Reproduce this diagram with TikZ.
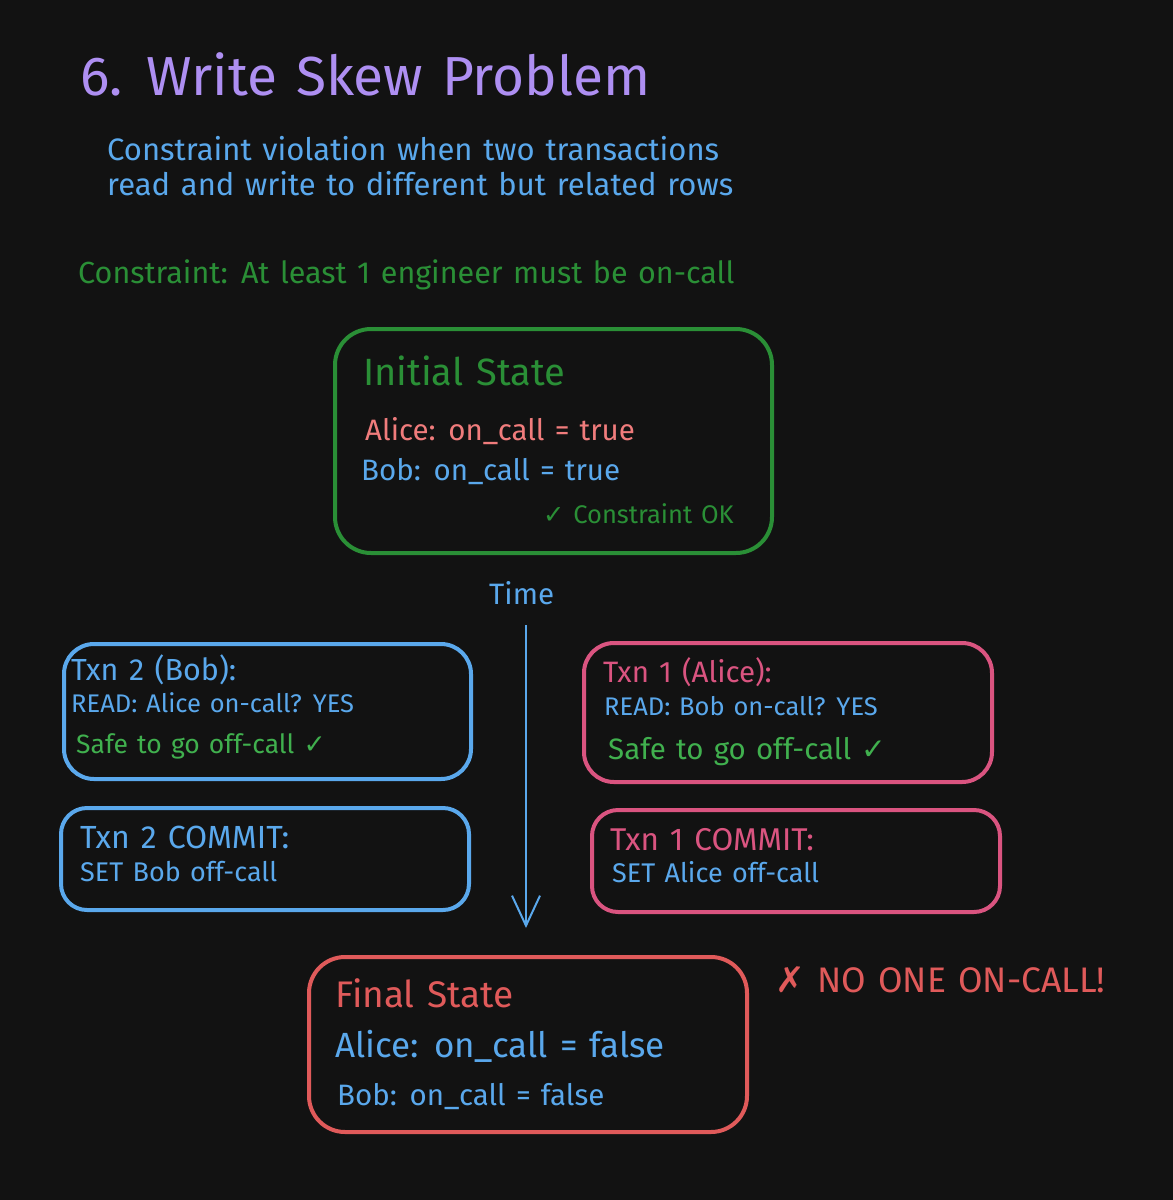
\documentclass[tikz,border=0pt]{standalone}
\usepackage{fontspec}
\setmainfont{Fira Sans}[WordSpace=1.3]
\newfontfamily\symfont{DejaVu Sans}
\usetikzlibrary{arrows.meta}
\definecolor{bgdark}{HTML}{121212}
\definecolor{ttlviolet}{HTML}{AE8FF2}
\definecolor{skyblue}{HTML}{5AA8EC}
\definecolor{darkgreen}{HTML}{2A8F36}
\definecolor{litegreen}{HTML}{40B04E}
\definecolor{salmon}{HTML}{F07C7C}
\definecolor{pinkred}{HTML}{DA5480}
\definecolor{finalred}{HTML}{E05A5A}
\newcommand{\fs}[1]{\fontsize{#1}{#1}\selectfont}
\begin{document}
\begin{tikzpicture}[x=1pt,y=-1pt]
    \tikzset{every node/.style={inner sep=0pt},
      box/.style={draw, line width=4pt, rounded corners=36pt, anchor=north west},
      txt/.style={anchor=base west}}
    \fill [bgdark] (0,0) rectangle (1173,1200);
    % heading
    \node [txt, ttlviolet, font=\fs{55}] (title) at (80,95) {6. Write Skew Problem};
    \node [txt, skyblue, font=\fs{31}] (sub1) at (107,160) {Constraint violation when two transactions};
    \node [txt, skyblue, font=\fs{31}] (sub2) at (107,195) {read and write to different but related rows};
    \node [txt, darkgreen, font=\fs{30.5}] (rule) at (78,283) {Constraint: At least 1 engineer must be on-call};
    % initial state
    \node [box, darkgreen, minimum width=437pt, minimum height=224pt] (init) at (333,327) {};
    \node [txt, darkgreen, font=\fs{38}] (initttl) at (363,385) {Initial State};
    \node [txt, salmon, font=\fs{29.5}] (initA) at (365,440) {Alice: on\_call = true};
    \node [txt, skyblue, font=\fs{29.5}] (initB) at (361,480) {Bob: on\_call = true};
    \node [txt, darkgreen, font=\fs{25.5}] (initok) at (543,523) {{\symfont ✓} Constraint OK};
    % time axis
    \node [txt, skyblue, font=\fs{29.5}] (time) at (489,604) {Time};
    \coordinate (ttop) at (526,625);
    \coordinate (tbot) at (526,928);
    \draw [skyblue, line width=2pt, -{Straight Barb[length=30pt,width=28pt]}] (ttop) -- (tbot);
    % txn 2 (bob)
    \node [box, skyblue, rounded corners=30pt, minimum width=407pt, minimum height=135pt] (bobrd) at (62,642) {};
    \node [txt, skyblue, font=\fs{30.5}] (bob1) at (71,680) {Txn 2 (Bob):};
    \node [txt, skyblue, font=\fs{25.5}] (bob2) at (71,712) {READ: Alice on-call? YES};
    \node [txt, litegreen, font=\fs{26.5}] (bob3) at (76,753) {Safe to go off-call {\symfont ✓}};
    \node [box, skyblue, rounded corners=26pt, minimum width=408pt, minimum height=102pt] (bobcm) at (59,806) {};
    \node [txt, skyblue, font=\fs{32}] (bob4) at (80,848) {Txn 2 COMMIT:};
    \node [txt, skyblue, font=\fs{27}] (bob5) at (80,881) {SET Bob off-call};
    % txn 1 (alice)
    \node [box, pinkred, rounded corners=30pt, minimum width=408pt, minimum height=139pt] (alrd) at (582,641) {};
    \node [txt, pinkred, font=\fs{29.5}] (al1) at (603,682) {Txn 1 (Alice):};
    \node [txt, skyblue, font=\fs{25.5}] (al2) at (604,715) {READ: Bob on-call? YES};
    \node [txt, litegreen, font=\fs{29.5}] (al3) at (608,759) {Safe to go off-call {\symfont ✓}};
    \node [box, pinkred, rounded corners=26pt, minimum width=408pt, minimum height=102pt] (alcm) at (590,808) {};
    \node [txt, pinkred, font=\fs{31.5}] (al4) at (610,850) {Txn 1 COMMIT:};
    \node [txt, skyblue, font=\fs{27}] (al5) at (612,882) {SET Alice off-call};
    % final state
    \node [box, finalred, minimum width=438pt, minimum height=175pt] (final) at (307,955) {};
    \node [txt, finalred, font=\fs{37}] (finttl) at (335,1007) {Final State};
    \node [txt, skyblue, font=\fs{35}] (finA) at (335,1057) {Alice: on\_call = false};
    \node [txt, skyblue, font=\fs{29.5}] (finB) at (337,1105) {Bob: on\_call = false};
    \node [txt, finalred, font=\fs{35.5}] (noone) at (775,992) {{\symfont ✗} NO ONE ON-CALL!};
\end{tikzpicture}
\end{document}
